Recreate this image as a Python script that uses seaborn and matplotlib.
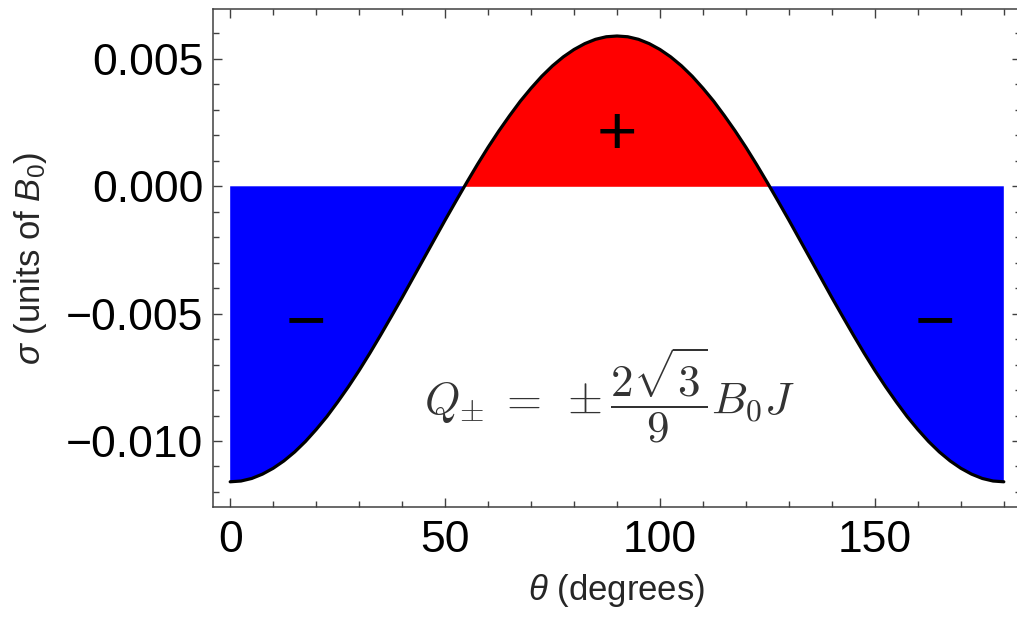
import numpy as np
import matplotlib
matplotlib.use("Agg")
import matplotlib.pyplot as plt
from matplotlib.ticker import MultipleLocator, FuncFormatter
import seaborn as sns

# Surface charge density versus polar angle
theta = [0, 2.5, 5, 7.5, 10, 12.5, 15, 17.5, 20, 22.5, 25, 27.5, 30, 32.5, 35, 37.5,
         40, 42.5, 45, 47.5, 50, 52.5, 55, 57.5, 60, 62.5, 65, 67.5, 70, 72.5, 75,
         77.5, 80, 82.5, 85, 87.5, 90, 92.5, 95, 97.5, 100, 102.5, 105, 107.5, 110,
         112.5, 115, 117.5, 120, 122.5, 125, 127.5, 130, 132.5, 135, 137.5, 140,
         142.5, 145, 147.5, 150, 152.5, 155, 157.5, 160, 162.5, 165, 167.5, 170,
         172.5, 175, 177.5, 180]
sigma = [-0.01160, -0.01157, -0.01147, -0.01130, -0.01107, -0.01078, -0.01043,
         -0.01002, -0.00955, -0.00904, -0.00847, -0.00787, -0.00723, -0.00655,
         -0.00584, -0.00511, -0.00437, -0.00361, -0.00285, -0.00209, -0.00133,
         -0.00059, 0.00014, 0.00085, 0.00153, 0.00217, 0.00277, 0.00334, 0.00385,
         0.00432, 0.00473, 0.00508, 0.00537, 0.00560, 0.00577, 0.00587, 0.00590,
         0.00587, 0.00577, 0.00560, 0.00537, 0.00508, 0.00473, 0.00432, 0.00385,
         0.00334, 0.00277, 0.00217, 0.00153, 0.00085, 0.00014, -0.00059, -0.00133,
         -0.00209, -0.00285, -0.00361, -0.00437, -0.00511, -0.00584, -0.00655,
         -0.00723, -0.00787, -0.00847, -0.00904, -0.00955, -0.01002, -0.01043,
         -0.01078, -0.01107, -0.01130, -0.01147, -0.01157, -0.01160]

# Sign annotations: (theta, sigma, text)
sign_labels = [(90, 0.00224, "+"), (17.6, -0.00512, "\u2212"), (164, -0.00512, "\u2212")]
charge_formula = r"$Q_{\pm}\;=\;\pm\dfrac{2\sqrt{3}}{9}B_0J$"

x_label = r"$\theta$ (degrees)"
y_label = r"$\sigma$ (units of $B_0$)"

sns.set_style("ticks")
plt.rcParams["font.family"] = ["Liberation Sans", "DejaVu Sans"]
plt.rcParams["mathtext.fontset"] = "custom"
plt.rcParams["mathtext.rm"] = "Liberation Sans"
plt.rcParams["mathtext.it"] = "Liberation Sans:italic"
plt.rcParams["mathtext.bf"] = "Liberation Sans:bold"

W, H = 1017, 620
fig = plt.figure(figsize=(W / 100, H / 100), dpi=100)
left, right, top, bottom = 213, 1021, 9, 507
ax = fig.add_axes([left / W, 1 - bottom / H, (right - left) / W, (bottom - top) / H])

xs = np.array(theta, dtype=float)
ys = np.array(sigma, dtype=float)

ax.fill_between(xs, ys, 0, where=ys <= 0, interpolate=True,
                color="#0000ff", linewidth=0, zorder=1)
ax.fill_between(xs, ys, 0, where=ys >= 0, interpolate=True,
                color="#ff0000", linewidth=0, zorder=1)
sns.lineplot(x=xs, y=ys, ax=ax, color="black", linewidth=2.3, zorder=3,
             sort=False)

for tx, ty, s in sign_labels:
    ax.text(tx, ty, s, fontsize=50, ha="center", va="center_baseline",
            color="black", zorder=4)

ax.text(88.3, -0.00892, charge_formula, fontsize=32.5, ha="center",
        va="baseline", color="#333333", math_fontfamily="cm", zorder=4)

ax.set_xlim(-4, 184)
ax.set_ylim(-0.01259, 0.00696)

ax.xaxis.set_major_locator(MultipleLocator(50))
ax.xaxis.set_minor_locator(MultipleLocator(10))
ax.yaxis.set_major_locator(MultipleLocator(0.005))
ax.yaxis.set_minor_locator(MultipleLocator(0.001))


def fmt_y(v, pos):
    s = f"{v:.3f}"
    if s == "-0.000":
        s = "0.000"
    return s.replace("-", "\u2212")


ax.yaxis.set_major_formatter(FuncFormatter(fmt_y))

spine_col = "#404040"
for sp in ax.spines.values():
    sp.set_color(spine_col)
    sp.set_linewidth(1.1)

ax.tick_params(which="both", direction="in", top=True, right=True,
               color=spine_col, width=1.0, labelsize=32, labelcolor="black")
ax.tick_params(which="major", length=6.8)
ax.tick_params(which="minor", length=4.2)
ax.tick_params(axis="y", which="major", pad=7)
ax.tick_params(axis="x", which="major", pad=9)

ax.set_xlabel(x_label, fontsize=25, labelpad=8)
ax.set_ylabel(y_label, fontsize=25, labelpad=12)

fig.savefig("out.png", dpi=100)
